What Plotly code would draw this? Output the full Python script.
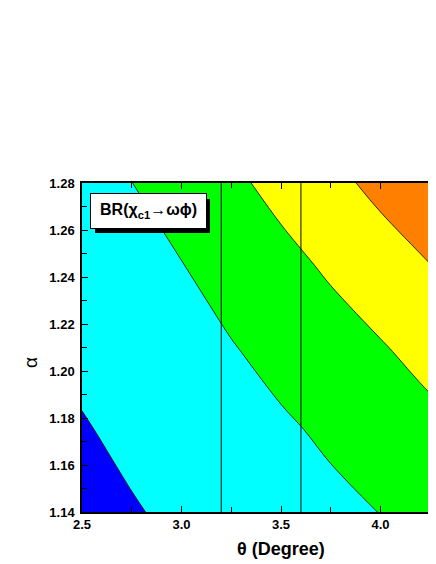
import plotly.graph_objects as go

# grid: BR contour levels at 1, 2, 3, 4
theta = [2.5, 2.75, 3.0, 3.25, 3.5, 3.75, 4.0, 4.25, 4.5]
alpha = [1.14, 1.175, 1.21, 1.245, 1.28]

br_a1140 = [0.750, 0.942, 1.151, 1.366, 1.581, 1.796, 2.014, 2.283, 2.552]
br_a1175 = [0.944, 1.172, 1.407, 1.642, 1.877, 2.143, 2.444, 2.745, 3.059]
br_a1210 = [1.188, 1.445, 1.701, 1.958, 2.275, 2.605, 2.934, 3.324, 3.728]
br_a1245 = [1.447, 1.711, 1.976, 2.349, 2.733, 3.130, 3.559, 3.988, 4.442]
br_a1280 = [1.719, 1.993, 2.405, 2.819, 3.271, 3.750, 4.240, 4.740, 5.240]

levels = [1, 2, 3, 4]
band_colors = ['#0000FF', '#00FFFF', '#00FF00', '#FFFF00', '#FF8000']
theta_window = [3.2, 3.6]

# page body adds an 8px offset, so the figure is drawn 8px short
OFF = 8
W, H = 436 - OFF, 564 - OFF
L, R, T, B = 82 - OFF, 0, 183 - OFF, 564 - 512
pw, ph = W - L - R, H - T - B


def px_x(p):
    return (p - OFF - L) / pw


def px_y(p):
    return 1 - (p - OFF - T) / ph


font = dict(family='Liberation Sans, Arial', color='black')

fig = go.Figure()
fig.add_trace(go.Contour(
    x=theta, y=alpha,
    z=[br_a1140, br_a1175, br_a1210, br_a1245, br_a1280],
    contours=dict(start=levels[0], end=levels[-1], size=1, coloring='fill'),
    colorscale=[[i / (len(band_colors) - 1), c] for i, c in enumerate(band_colors)],
    line=dict(color='black', width=0.8),
    showscale=False, hoverinfo='skip'))

# theta window
for xv in theta_window:
    fig.add_shape(type='line', xref='x', yref='paper', x0=xv, x1=xv, y0=0, y1=1,
                  line=dict(color='rgba(0,0,0,0.75)', width=1.3), layer='above')

# label box with drop shadow
fig.add_shape(type='rect', xref='paper', yref='paper',
              x0=px_x(95), x1=px_x(210), y0=px_y(233), y1=px_y(199),
              fillcolor='black', line=dict(width=0), layer='above')
fig.add_annotation(xref='paper', yref='paper', x=px_x(148), y=px_y(211.5),
                   xanchor='center', yanchor='middle', showarrow=False,
                   text='BR(χ<sub>c1</sub>→ωϕ)', width=113, height=32,
                   bgcolor='white', bordercolor='black', borderwidth=1, borderpad=1,
                   font=dict(size=16, weight='bold', **font))

# axis titles
fig.add_annotation(xref='paper', yref='paper', x=px_x(281), y=px_y(549),
                   xanchor='center', yanchor='middle', showarrow=False,
                   text='θ (Degree)', font=dict(size=18, weight='bold', **font))
fig.add_annotation(xref='paper', yref='paper', x=px_x(30), y=px_y(363),
                   xanchor='center', yanchor='middle', showarrow=False, textangle=-90,
                   text='α', font=dict(size=19, **font))

axis_common = dict(showgrid=False, zeroline=False, showline=True, linecolor='black',
                   linewidth=1.5, ticks='inside', ticklen=6, tickwidth=1.2, tickcolor='black',
                   tickfont=dict(size=13, weight='bold', **font))

fig.update_xaxes(range=[2.5, 2.5 + pw / 199], dtick=0.5, tick0=2.5, tickformat='.1f',
                 mirror='ticks',
                 minor=dict(dtick=0.25, ticks='inside', ticklen=5, tickcolor='black', tickwidth=1.2),
                 **axis_common)
fig.update_yaxes(range=[1.14, 1.28], dtick=0.02, tick0=1.14, tickformat='.2f',
                 mirror=False, ticklabelstandoff=3,
                 minor=dict(dtick=0.01, ticks='inside', ticklen=5, tickcolor='black', tickwidth=1.2),
                 **axis_common)

fig.update_layout(width=W, height=H, margin=dict(l=L, r=R, t=T, b=B),
                  paper_bgcolor='white', plot_bgcolor='white', showlegend=False,
                  font=font)

fig.write_html("out.html")
